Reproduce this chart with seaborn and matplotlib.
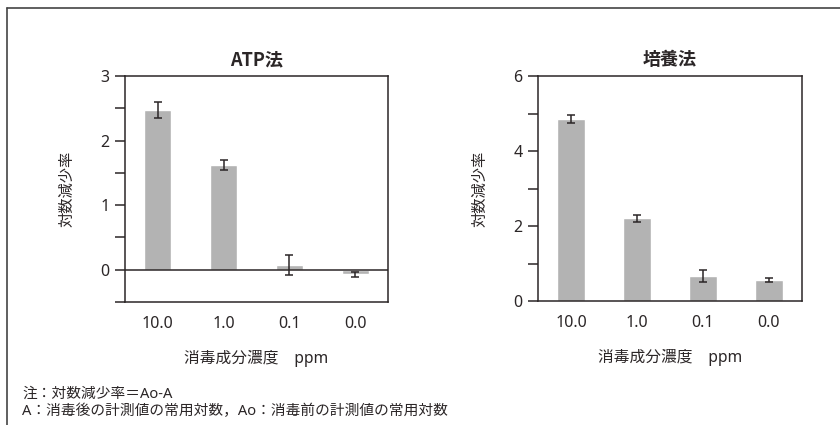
import pandas as pd
import matplotlib.pyplot as plt
from matplotlib.lines import Line2D
from matplotlib.ticker import MultipleLocator
import seaborn as sns

# Ajustes visuais
sns.set_theme(style="white")
plt.rcParams['font.family'] = ['Noto Sans', 'Noto Sans CJK JP', 'DejaVu Sans']

# Dados
concentracoes = ['10.0', '1.0', '0.1', '0.0']
atp_valores = [2.47, 1.62, 0.08, -0.07]
atp_erros = [0.12, 0.08, 0.155, 0.04]
cultura_valores = [4.85, 2.21, 0.67, 0.56]
cultura_erros = [0.11, 0.09, 0.155, 0.06]

titulos = ['ATP法', '培養法']
rotulo_y = '対数減少率'
rotulo_x = '消毒成分濃度\u3000ppm'
notas = ['注：対数減少率＝Ao-A',
         'A：消毒後の計測値の常用対数，Ao：消毒前の計測値の常用対数']

COR_TEXTO = '#2b2627'
COR_BARRA = '#b3b3b3'
W, H = 840, 425


def desenhar(ax, valores, erros, titulo, ylim, major, minor, linha_zero=False):
    df = pd.DataFrame({'Conc': concentracoes, 'Valor': valores})
    sns.barplot(data=df, x='Conc', y='Valor', order=concentracoes, color=COR_BARRA,
                saturation=1, width=0.41, errorbar=None, ax=ax)
    ax.errorbar(x=range(len(valores)), y=valores, yerr=erros, fmt='none',
                ecolor=COR_TEXTO, elinewidth=1.1, capsize=3.2, capthick=1.1)
    if linha_zero:
        ax.axhline(0, color=COR_TEXTO, lw=1.1)
    ax.set_xlim(-0.5, len(valores) - 0.5)
    ax.set_ylim(*ylim)
    ax.yaxis.set_major_locator(MultipleLocator(major))
    ax.yaxis.set_minor_locator(MultipleLocator(minor))
    ax.tick_params(axis='y', which='both', direction='out', length=7, width=1.1,
                   color=COR_TEXTO, left=True, labelsize=11.5, labelcolor=COR_TEXTO, pad=4)
    ax.tick_params(axis='x', length=0, labelsize=11.5, labelcolor=COR_TEXTO, pad=10)
    for s in ax.spines.values():
        s.set_color(COR_TEXTO)
        s.set_linewidth(1.1)
    ax.set_title(titulo, fontsize=13, fontweight='bold', color=COR_TEXTO, pad=8,
                 family=['Noto Sans CJK JP', 'DejaVu Sans'])
    ax.set_xlabel(rotulo_x, fontsize=11.3, color=COR_TEXTO)
    ax.set_ylabel(rotulo_y, fontsize=11, color=COR_TEXTO)
    ax.xaxis.label.set_va('center')
    ax.xaxis.set_label_coords(0.5, -0.25)
    ax.yaxis.label.set_va('center')
    ax.yaxis.set_label_coords(-0.217, 0.5)


fig = plt.figure(figsize=(W / 100, H / 100), dpi=100)
ax1 = fig.add_axes([125 / W, (H - 302) / H, 263 / W, 226 / H])
ax2 = fig.add_axes([538 / W, (H - 301) / H, 264 / W, 225 / H])

desenhar(ax1, atp_valores, atp_erros, titulos[0], (-0.5, 3), 1, 0.5, linha_zero=True)
desenhar(ax2, cultura_valores, cultura_erros, titulos[1], (0, 6), 2, 1)

# moldura externa
fig.add_artist(Line2D([7 / W, 7 / W], [0, 1 - 8 / H], color='#444444', lw=1.2))
fig.add_artist(Line2D([7 / W, 1], [1 - 8 / H, 1 - 8 / H], color='#444444', lw=1.2))

fig.text(22 / W, 1 - 394 / H, notas[0], fontsize=10.6, color=COR_TEXTO, va='center')
fig.text(22 / W, 1 - 412 / H, notas[1], fontsize=10.6, color=COR_TEXTO, va='center')

fig.savefig('out.png', dpi=100)
